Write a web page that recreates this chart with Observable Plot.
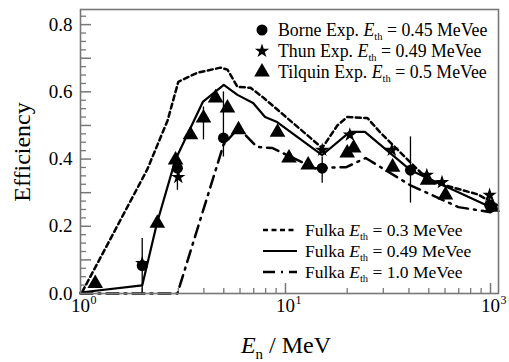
<!DOCTYPE html>
<html><head><meta charset="utf-8">
<script src="https://cdn.jsdelivr.net/npm/d3@7"></script>
<script src="https://cdn.jsdelivr.net/npm/@observablehq/plot@0.6"></script>
<style>
body{margin:0;background:#fff}
#chart{width:509px;height:362px}
svg{font-family:'Liberation Serif','Times New Roman',serif}
</style>
</head><body><div id="chart"></div>
<script>
// ---- Data ----
// Fulka simulation, E_th = 0.3 MeVee (dashed)
const fulka03E   = [1.02, 1.45, 2.12, 2.66, 3.0, 3.72, 4.82, 5.21, 5.83, 6.75, 7.72, 15.1, 17.9, 20.0, 25.1, 29.1, 51, 61.7, 86.4, 108];
const fulka03Eff = [0.005, 0.18, 0.37, 0.515, 0.63, 0.657, 0.672, 0.666, 0.615, 0.612, 0.585, 0.433, 0.5, 0.525, 0.522, 0.478, 0.331, 0.32, 0.295, 0.263];
// Fulka simulation, E_th = 0.49 MeVee (solid)
const fulka049E   = [1.0, 2.0, 2.36, 2.9, 3.95, 5.0, 5.83, 6.95, 7.95, 9.1, 15.1, 20.6, 24.4, 40.7, 61.7, 108];
const fulka049Eff = [0.003, 0.024, 0.209, 0.397, 0.57, 0.621, 0.591, 0.567, 0.525, 0.51, 0.412, 0.481, 0.481, 0.367, 0.316, 0.248];
// Fulka simulation, E_th = 1.0 MeVee (dash-dot)
const fulka10E   = [1.0, 2.97, 4.98, 5.9, 7.25, 8.6, 13.9, 19.8, 24.6, 40.7, 69.7, 100, 108];
const fulka10Eff = [0.0, 0.0, 0.442, 0.493, 0.436, 0.433, 0.373, 0.376, 0.403, 0.322, 0.257, 0.242, 0.254];
// Experiments
const borneE   = [2.0, 2.97, 4.98, 15.1, 40.7, 99];
const borneEff = [0.083, 0.373, 0.463, 0.373, 0.367, 0.263];
const thunE    = [2.0, 3.0, 15.1, 20.6, 33, 48.9, 58, 99];
const thunEff  = [0.09, 0.346, 0.427, 0.472, 0.427, 0.352, 0.331, 0.293];
const tilquinE   = [1.18, 2.37, 2.91, 3.44, 3.98, 4.56, 5.21, 5.9, 9.14, 10.4, 12.9, 20.0, 21.5, 33.3, 49.3, 60.3, 102];
const tilquinEff = [0.03, 0.209, 0.397, 0.472, 0.522, 0.582, 0.552, 0.487, 0.48, 0.403, 0.382, 0.418, 0.433, 0.376, 0.337, 0.293, 0.257];
// Error bars
const errE  = [2.0, 2.97, 3.98, 4.98, 15.1, 40.7, 99];
const errLo = [0.0, 0.307, 0.457, 0.406, 0.328, 0.269, 0.239];
const errHi = [0.164, 0.37, 0.555, 0.6, 0.406, 0.466, 0.299];
// Ticks
const yTickValues = [0, 0.2, 0.4, 0.6, 0.8];
const yTickLabels = ["0.0", "0.2", "0.4", "0.6", "0.8"];
const yMajorTicks = [0.1, 0.2, 0.3, 0.4, 0.5, 0.6, 0.7, 0.8];
const yMinorTicks = d3.range(1, 34).map(i => i * 0.025).filter(v => Math.abs(v * 10 - Math.round(v * 10)) > 1e-6);
const xTickValues = [1, 10, 100];
const xTickExps = ["0", "1", "3"];
const xMinorTicks = [2, 3, 4, 5, 6, 7, 8, 9, 20, 30, 40, 50, 60, 70, 80, 90];
const xMajorTicks = [10, 100];
// Legend entries
const expLegend = [
  {name: "Borne Exp. ", val: " = 0.45 MeVee", symbol: "circle"},
  {name: "Thun Exp. ", val: " = 0.49 MeVee", symbol: "star"},
  {name: "Tilquin Exp. ", val: " = 0.5 MeVee", symbol: "triangle"}
];
const simLegend = [
  {name: "Fulka ", val: " = 0.3 MeVee", dash: "5,3.5"},
  {name: "Fulka ", val: " = 0.49 MeVee", dash: null},
  {name: "Fulka ", val: " = 1.0 MeVee", dash: "12,6,2,6"}
];

const zip = (E, v) => E.map((e, i) => ({E: e, eff: v[i]}));
const errData = errE.map((e, i) => ({E: e, lo: errLo[i], hi: errHi[i]}));

const W = 509, H = 362, mL = 80, mR = 11, mT = 9, mB = 69;
const plotW = W - mL - mR, plotH = H - mT - mB;
const axisColor = "#777";
const rCircle = 5.5, rStar = 4.5, rTri = 5.8;

const plot = Plot.plot({
  width: W, height: H,
  marginLeft: mL, marginRight: mR, marginTop: mT, marginBottom: mB,
  style: {fontFamily: "'Liberation Serif','Times New Roman',serif", fontSize: "19px", background: "#fff", color: "#000"},
  x: {type: "log", domain: [1, 109.4], axis: null},
  y: {domain: [0, 0.845], axis: null},
  marks: [
    // ticks (inward)
    Plot.tickY(yMinorTicks, {y: d => d, insetRight: plotW - 6, stroke: axisColor, strokeWidth: 1.3}),
    Plot.tickY(yMajorTicks, {y: d => d, insetRight: plotW - 11, stroke: axisColor, strokeWidth: 1.5}),
    Plot.tickX(xMinorTicks, {x: d => d, insetTop: plotH - 5, stroke: axisColor, strokeWidth: 1.3}),
    Plot.tickX(xMajorTicks, {x: d => d, insetTop: plotH - 10, stroke: axisColor, strokeWidth: 1.5}),
    Plot.axisY({ticks: yTickValues, tickFormat: d => yTickLabels[yTickValues.indexOf(d)], tickSize: 0, tickPadding: 8, label: null, fontSize: 19}),
    Plot.text(xTickValues, {x: d => d, frameAnchor: "bottom", text: d => "10", dy: 18, fontSize: 19}),
    Plot.text(xTickValues, {x: d => d, frameAnchor: "bottom", text: d => xTickExps[xTickValues.indexOf(d)], dy: 10, dx: 10, textAnchor: "start", fontSize: 12}),
    // simulation curves
    Plot.line(zip(fulka03E, fulka03Eff), {x: "E", y: "eff", stroke: "#000", strokeWidth: 2.5, strokeDasharray: "5,3.5"}),
    Plot.line(zip(fulka049E, fulka049Eff), {x: "E", y: "eff", stroke: "#000", strokeWidth: 2.2}),
    Plot.line(zip(fulka10E, fulka10Eff), {x: "E", y: "eff", stroke: "#000", strokeWidth: 2.5, strokeDasharray: "12,6,2,6"}),
    // error bars
    Plot.ruleX(errData, {x: "E", y1: "lo", y2: "hi", stroke: "#000", strokeWidth: 1.3}),
    // experiments
    Plot.dot(zip(tilquinE, tilquinEff), {x: "E", y: "eff", symbol: "triangle", r: rTri, fill: "#000"}),
    Plot.dot(zip(thunE, thunEff), {x: "E", y: "eff", symbol: "star", r: rStar, fill: "#000"}),
    Plot.dot(zip(borneE, borneEff), {x: "E", y: "eff", symbol: "circle", r: rCircle, fill: "#000"}),
    Plot.frame({stroke: axisColor, strokeWidth: 1.6})
  ]
});
document.getElementById("chart").appendChild(plot);

// titles and legends (real text)
const svg = d3.select(plot);
const font = "'Liberation Serif','Times New Roman',serif";
svg.append("text")
  .attr("transform", "translate(22,152) rotate(-90)")
  .attr("text-anchor", "middle").attr("dy", "0.35em")
  .attr("font-family", font).attr("font-size", 24).attr("fill", "#000")
  .text("Efficiency");
const xt = svg.append("text").attr("x", 286).attr("y", 353).attr("text-anchor", "middle")
  .attr("font-family", font).attr("font-size", 24).attr("fill", "#000");
xt.append("tspan").attr("font-style", "italic").text("E");
xt.append("tspan").attr("font-size", 15).attr("dy", 6).text("n");
xt.append("tspan").attr("dy", -6).text(" / MeV");

function eth(sel, name, val) {
  sel.append("tspan").text(name);
  sel.append("tspan").attr("font-style", "italic").text("E");
  sel.append("tspan").attr("font-size", 10.5).attr("dy", 4).text("th");
  sel.append("tspan").attr("dy", -4).text(val);
}
const symMap = {circle: [d3.symbolCircle, rCircle], star: [d3.symbolStar, rStar], triangle: [d3.symbolTriangle, rTri]};
expLegend.forEach((d, i) => {
  const y = 30 + i * 21;
  const [s, r] = symMap[d.symbol];
  svg.append("path").attr("transform", `translate(262,${y})`)
    .attr("d", d3.symbol(s, r * r * Math.PI)()).attr("fill", "#000");
  const t = svg.append("text").attr("x", 278).attr("y", y + 6).attr("text-anchor", "start")
    .attr("font-family", font).attr("font-size", 17.8).attr("fill", "#000");
  eth(t, d.name, d.val);
});
simLegend.forEach((d, i) => {
  const y = 230 + i * 21;
  const ln = svg.append("line").attr("x1", 263).attr("x2", 297).attr("y1", y).attr("y2", y)
    .attr("stroke", "#000").attr("stroke-width", d.dash ? 2.5 : 2.2);
  if (d.dash) ln.attr("stroke-dasharray", d.dash);
  const t = svg.append("text").attr("x", 305).attr("y", y + 6).attr("text-anchor", "start")
    .attr("font-family", font).attr("font-size", 17.5).attr("fill", "#000");
  eth(t, d.name, d.val);
});
</script>
</body></html>
